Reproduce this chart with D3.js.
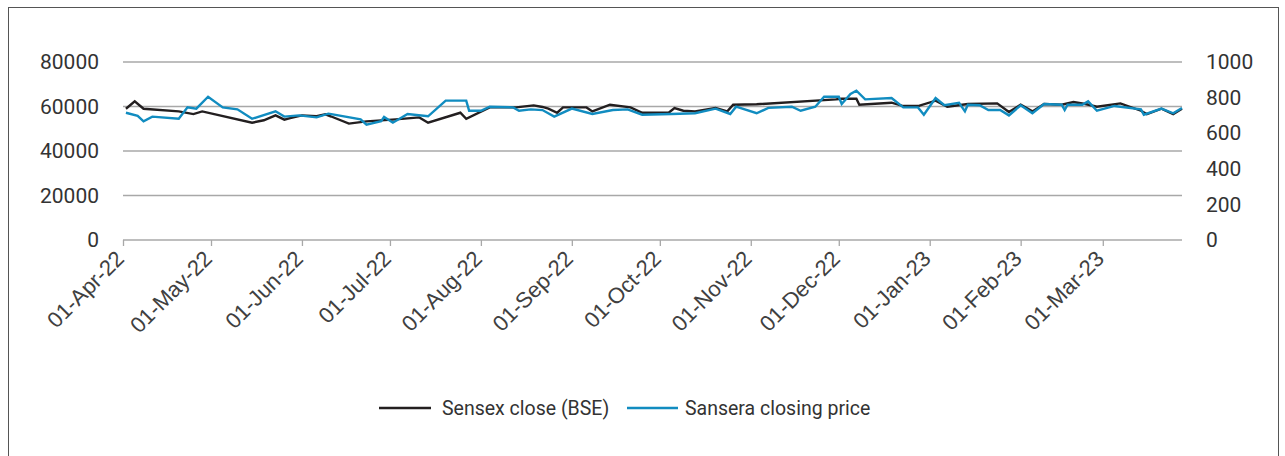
<!DOCTYPE html>
<html>
<head>
<meta charset="utf-8">
<script src="https://cdn.jsdelivr.net/npm/d3@7/dist/d3.min.js"></script>
<style>
  html, body { margin: 0; padding: 0; background: #ffffff; }
  svg { display: block; font-family: Roboto, "Noto Sans", sans-serif; }
</style>
</head>
<body>
<svg id="chart" width="1285" height="456"></svg>
<script>
// Sensex close (BSE), left axis
const sensexDates = [
  "2022-04-02","2022-04-05","2022-04-08","2022-04-20","2022-04-25","2022-04-28",
  "2022-05-15","2022-05-19","2022-05-23","2022-05-26","2022-05-28","2022-06-01",
  "2022-06-06","2022-06-09","2022-06-11","2022-06-17","2022-06-23","2022-07-03",
  "2022-07-11","2022-07-14","2022-07-25","2022-07-27","2022-08-04","2022-08-13",
  "2022-08-19","2022-08-22","2022-08-24","2022-08-27","2022-08-29","2022-09-06",
  "2022-09-08","2022-09-14","2022-09-21","2022-09-25","2022-10-04","2022-10-06",
  "2022-10-09","2022-10-13","2022-10-20","2022-10-24","2022-10-26","2022-11-03",
  "2022-11-30","2022-12-02","2022-12-07","2022-12-08","2022-12-19","2022-12-23",
  "2022-12-28","2023-01-03","2023-01-07","2023-01-14","2023-01-24","2023-01-28",
  "2023-02-01","2023-02-05","2023-02-09","2023-02-15","2023-02-19","2023-02-23",
  "2023-02-27","2023-03-07","2023-03-14","2023-03-16","2023-03-21","2023-03-25",
  "2023-03-28"
];
const sensexClose = [
  59000,62300,59000,57800,56600,57800,
  52700,53800,56000,54100,54800,56000,
  55600,56500,55500,52300,53300,54200,
  55100,52700,57200,54500,59600,59600,
  60500,59800,59000,57200,59600,59600,
  57800,60800,59600,57200,57200,59300,
  58100,57800,59300,57800,60800,61000,
  63200,63500,63500,60800,61700,60200,
  60200,62600,59900,61100,61400,57500,
  60800,57800,61100,60800,62000,61100,
  59900,61400,58100,56600,59000,56600,
  59000
];

// Sansera closing price, right axis
const sanseraDates = [
  "2022-04-02","2022-04-06","2022-04-08","2022-04-11","2022-04-20","2022-04-23",
  "2022-04-26","2022-04-30","2022-05-05","2022-05-10","2022-05-15","2022-05-23",
  "2022-05-26","2022-05-31","2022-06-06","2022-06-10","2022-06-11","2022-06-21",
  "2022-06-23","2022-06-28","2022-06-29","2022-07-02","2022-07-07","2022-07-14",
  "2022-07-20","2022-07-27","2022-07-28","2022-08-01","2022-08-04","2022-08-12",
  "2022-08-14","2022-08-18","2022-08-22","2022-08-26","2022-09-01","2022-09-08",
  "2022-09-15","2022-09-20","2022-09-25","2022-10-05","2022-10-13","2022-10-20",
  "2022-10-25","2022-10-27","2022-11-03","2022-11-07","2022-11-15","2022-11-18",
  "2022-11-23","2022-11-26","2022-12-01","2022-12-02","2022-12-05","2022-12-07",
  "2022-12-10","2022-12-19","2022-12-23","2022-12-28","2022-12-30","2023-01-03",
  "2023-01-06","2023-01-11","2023-01-13","2023-01-14","2023-01-18","2023-01-21",
  "2023-01-25","2023-01-28","2023-02-01","2023-02-05","2023-02-09","2023-02-15",
  "2023-02-16","2023-02-17","2023-02-22","2023-02-24","2023-02-27","2023-03-05",
  "2023-03-14","2023-03-15","2023-03-21","2023-03-25","2023-03-28"
];
const sanseraClose = [
  715,697,667,693,681,745,
  738,805,745,734,681,723,
  693,700,689,710,707,678,
  648,667,691,659,708,695,
  783,783,726,726,749,745,
  726,734,730,693,738,708,
  730,734,704,708,712,738,
  708,749,712,742,749,726,
  749,805,805,764,820,839,
  790,798,745,745,704,798,
  757,771,723,760,757,730,
  730,700,757,712,764,760,
  730,760,760,779,726,753,
  734,704,738,712,742
];

// Axis ticks
const leftTicks = [0, 20000, 40000, 60000, 80000];
const rightTicks = [0, 200, 400, 600, 800, 1000];
const monthTicks = [
  "2022-04-01","2022-05-01","2022-06-01","2022-07-01","2022-08-01","2022-09-01",
  "2022-10-01","2022-11-01","2022-12-01","2023-01-01","2023-02-01","2023-03-01"
];
const axisStart = "2022-04-01";
const axisEnd = "2023-03-28";

const seriesNames = ["Sensex close (BSE)", "Sansera closing price"];
const seriesColors = ["#231f20", "#118cc0"];

const parse = d3.timeParse("%Y-%m-%d");
const fmt = d3.timeFormat("%d-%b-%y");

const svg = d3.select("#chart");
const plot = { left: 123, right: 1182, top: 62, bottom: 240 };

const x = d3.scaleTime()
  .domain([parse(axisStart), parse(axisEnd)])
  .range([plot.left, plot.right]);
const yL = d3.scaleLinear().domain([0, 80000]).range([plot.bottom, plot.top]);
const yR = d3.scaleLinear().domain([0, 1000]).range([plot.bottom, plot.top]);

const textColor = "#333333";
const numSize = 21;
const dateSize = 22;
const legendSize = 19.5;

// outer frame
svg.append("rect")
  .attr("x", 8.5).attr("y", 7.5)
  .attr("width", 1270).attr("height", 470)
  .attr("fill", "none").attr("stroke", "#555555").attr("stroke-width", 1);

// horizontal gridlines from the left axis
svg.append("g")
  .selectAll("line")
  .data(leftTicks.filter(d => d > 0))
  .join("line")
  .attr("x1", plot.left).attr("x2", plot.right)
  .attr("y1", d => yL(d)).attr("y2", d => yL(d))
  .attr("stroke", "#a8a8a8").attr("stroke-width", 1.3);

// left axis labels
const leftAxis = d3.axisLeft(yL).tickValues(leftTicks).tickSize(0).tickPadding(0)
  .tickFormat(d3.format("d"));
const gL = svg.append("g").attr("transform", `translate(${99},0)`).call(leftAxis);
gL.select(".domain").remove();
gL.selectAll("text").attr("font-size", numSize).attr("fill", textColor)
  .attr("font-family", "Roboto");

// right axis labels
const rightAxis = d3.axisRight(yR).tickValues(rightTicks).tickSize(0).tickPadding(0)
  .tickFormat(d3.format("d"));
const gR = svg.append("g").attr("transform", `translate(${1206},0)`).call(rightAxis);
gR.select(".domain").remove();
gR.selectAll("text").attr("font-size", numSize).attr("fill", textColor)
  .attr("font-family", "Roboto");

// date axis
const bottomAxis = d3.axisBottom(x)
  .tickValues(monthTicks.map(parse))
  .tickSize(6).tickPadding(0)
  .tickFormat(fmt);
const gB = svg.append("g").attr("transform", `translate(0,${plot.bottom})`).call(bottomAxis);
gB.select(".domain")
  .attr("d", `M${plot.left},0H${plot.right}`)
  .attr("stroke", "#a8a8a8").attr("stroke-width", 1.3);
gB.selectAll(".tick line").attr("stroke", "#a8a8a8").attr("stroke-width", 1.3);
gB.selectAll(".tick text")
  .attr("font-size", dateSize).attr("fill", "#404040")
  .attr("font-family", "'Liberation Sans', Arial, sans-serif")
  .attr("text-anchor", "end")
  .attr("dy", null)
  .attr("y", 0)
  .attr("transform", "translate(2,20) rotate(-45)");

// series lines
const sensex = sensexDates.map((d, i) => ({ date: parse(d), value: sensexClose[i] }));
const sansera = sanseraDates.map((d, i) => ({ date: parse(d), value: sanseraClose[i] }));

const lineL = d3.line().x(d => x(d.date)).y(d => yL(d.value));
const lineR = d3.line().x(d => x(d.date)).y(d => yR(d.value));

svg.append("path").datum(sensex)
  .attr("d", lineL).attr("fill", "none")
  .attr("stroke", seriesColors[0]).attr("stroke-width", 2.4)
  .attr("stroke-linejoin", "miter");

svg.append("path").datum(sansera)
  .attr("d", lineR).attr("fill", "none")
  .attr("stroke", seriesColors[1]).attr("stroke-width", 2.4)
  .attr("stroke-linejoin", "miter");

// legend
const legendY = 408;
const legendItems = [
  { name: seriesNames[0], color: seriesColors[0], x1: 379, x2: 431, tx: 442 },
  { name: seriesNames[1], color: seriesColors[1], x1: 627, x2: 678, tx: 685 }
];
const lg = svg.append("g");
legendItems.forEach(it => {
  lg.append("line")
    .attr("x1", it.x1).attr("x2", it.x2)
    .attr("y1", legendY).attr("y2", legendY)
    .attr("stroke", it.color).attr("stroke-width", 2.4);
  lg.append("text")
    .attr("x", it.tx).attr("y", legendY)
    .attr("dy", "0.35em")
    .attr("font-size", legendSize).attr("fill", textColor)
    .text(it.name);
});
</script>
</body>
</html>
